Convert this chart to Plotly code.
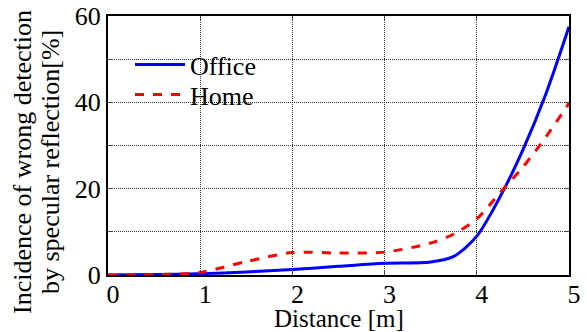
import plotly.graph_objects as go

distance = [0, 0.5, 1.0, 1.5, 2.0, 2.5, 3.0, 3.5, 3.75, 4.0, 4.25, 4.5, 4.75, 5.0]
office = [0.0, 0.1, 0.3, 0.7, 1.3, 2.0, 2.7, 3.0, 4.3, 9.0, 18.0, 29.0, 42.0, 57.5]
home = [0.0, 0.1, 0.6, 3.1, 5.2, 5.1, 5.3, 7.4, 9.5, 13.0, 19.0, 25.0, 32.0, 39.8]

y_ticks = [0, 10, 20, 30, 40, 50, 60]
y_labels = ["0", "", "20", "", "40", "", "60"]
x_ticks = [0, 1, 2, 3, 4, 5]
x_title = "Distance [m]"
y_title_lines = ["Incidence of wrong detection", "by specular reflection[%]"]

FAM = "Liberation Serif"
FS = 26
font = dict(family=FAM, size=FS, color="black")

L, R, T, B = 108, 18, 16, 57
W, H = 587, 332
pw, ph = W - L - R, H - T - B

fig = go.Figure()
fig.add_trace(go.Scatter(x=distance, y=office, mode="lines", name="Office", legend="legend",
                         line=dict(color="#0000ff", width=3, shape="spline", smoothing=0.8)))
fig.add_trace(go.Scatter(x=distance, y=home, mode="lines", name="Home", legend="legend2",
                         line=dict(color="#ff0000", width=3, dash="dash", shape="spline", smoothing=0.8)))

leg_common = dict(xanchor="left", yanchor="top", bgcolor="rgba(255,255,255,0)", font=font,
                  itemwidth=50, x=(130 - L) / pw)
fig.update_layout(
    width=W, height=H,
    margin=dict(l=L, r=R, t=T, b=B),
    paper_bgcolor="white", plot_bgcolor="white",
    font=font,
    showlegend=True,
    legend=dict(y=1 - (41 - T) / ph, **leg_common),
    legend2=dict(y=1 - (71 - T) / ph, **leg_common),
)
fig.update_xaxes(range=[0, 5], tickvals=x_ticks, ticks="inside", ticklen=5, tickwidth=1,
                 showline=True, linecolor="black", linewidth=2, mirror="ticks",
                 showgrid=True, gridcolor="#333", griddash="1px,1px", gridwidth=1,
                 zeroline=False, ticklabelshift=5, ticklabelstandoff=-5, automargin=False,
                 tickfont=font)
fig.update_yaxes(range=[0, 60], tickvals=y_ticks, ticktext=y_labels, ticks="inside", ticklen=5,
                 tickwidth=1, showline=True, linecolor="black", linewidth=2, mirror="ticks",
                 showgrid=True, gridcolor="#333", griddash="1px,1px", gridwidth=1,
                 zeroline=False, automargin=False, tickfont=font)

fig.add_annotation(text=x_title, xref="paper", yref="paper",
                   x=0.5, y=1 - (333 - T) / ph, xanchor="center", yanchor="bottom",
                   borderpad=0, showarrow=False, font=dict(family=FAM, size=25, color="black"))
for xpix, txt in zip([22, 50], y_title_lines):
    fig.add_annotation(text=txt, xref="paper", yref="paper",
                       x=(xpix - L) / pw, y=1 - (162 - T) / ph,
                       xanchor="center", yanchor="middle", textangle=-90,
                       showarrow=False, font=font)

fig.write_html("out.html")
